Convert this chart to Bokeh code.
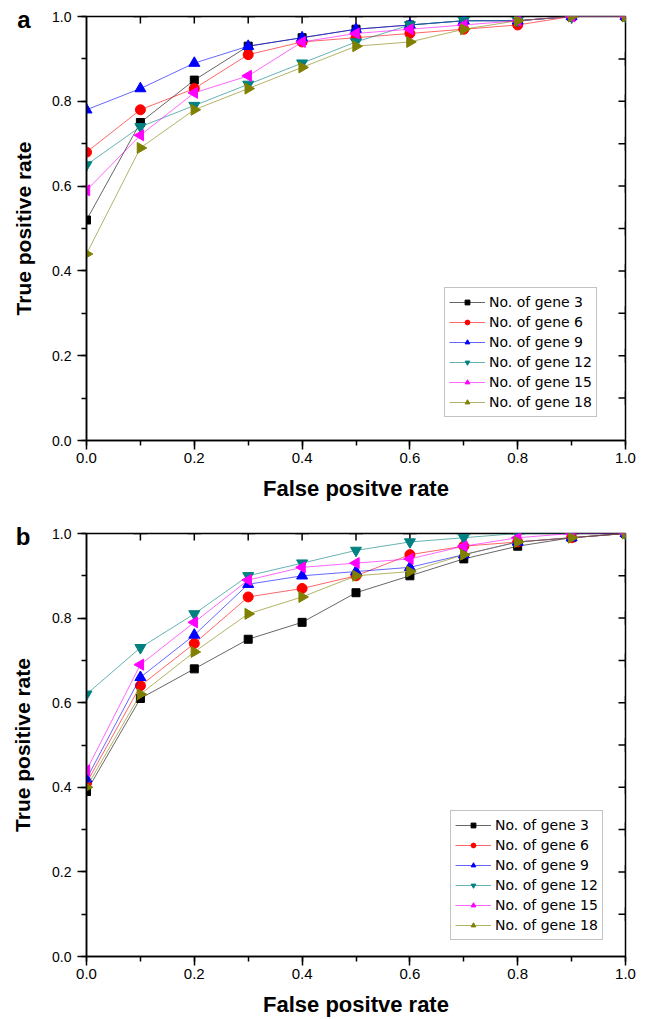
import math
from bokeh.plotting import figure
from bokeh.layouts import column
from bokeh.models import (Range1d, LinearAxis, SingleIntervalTicker, FixedTicker,
                          PrintfTickFormatter, Legend, LegendItem)
from bokeh.embed import file_html
from bokeh.resources import INLINE

fpr = [0.0, 0.1, 0.2, 0.3, 0.4, 0.5, 0.6, 0.7, 0.8, 0.9, 1.0]
edge_ticks = [0.1, 0.2, 0.3, 0.4, 0.5, 0.6, 0.7, 0.8, 0.9]

labels = ["No. of gene 3", "No. of gene 6", "No. of gene 9",
          "No. of gene 12", "No. of gene 15", "No. of gene 18"]

# Panel a
a_gene3 = [0.52, 0.75, 0.85, 0.93, 0.95, 0.97, 0.98, 0.99, 0.99, 1.00, 1.00]
a_gene6 = [0.68, 0.78, 0.83, 0.91, 0.94, 0.95, 0.96, 0.97, 0.98, 1.00, 1.00]
a_gene9 = [0.78, 0.83, 0.89, 0.93, 0.95, 0.97, 0.98, 0.99, 0.99, 1.00, 1.00]
a_gene12 = [0.65, 0.74, 0.79, 0.84, 0.89, 0.94, 0.98, 0.99, 0.99, 1.00, 1.00]
a_gene15 = [0.59, 0.72, 0.82, 0.86, 0.94, 0.96, 0.97, 0.98, 0.99, 1.00, 1.00]
a_gene18 = [0.44, 0.69, 0.78, 0.83, 0.88, 0.93, 0.94, 0.97, 0.99, 1.00, 1.00]

# Panel b
b_gene3 = [0.39, 0.61, 0.68, 0.75, 0.79, 0.86, 0.90, 0.94, 0.97, 0.99, 1.00]
b_gene6 = [0.41, 0.64, 0.74, 0.85, 0.87, 0.90, 0.95, 0.97, 0.98, 0.99, 1.00]
b_gene9 = [0.42, 0.66, 0.76, 0.88, 0.90, 0.91, 0.92, 0.95, 0.98, 0.99, 1.00]
b_gene12 = [0.62, 0.73, 0.81, 0.90, 0.93, 0.96, 0.98, 0.99, 1.00, 1.00, 1.00]
b_gene15 = [0.44, 0.69, 0.79, 0.89, 0.92, 0.93, 0.94, 0.97, 0.99, 1.00, 1.00]
b_gene18 = [0.40, 0.62, 0.72, 0.81, 0.85, 0.90, 0.91, 0.95, 0.98, 0.99, 1.00]

colors = ["#000000", "#ff0000", "#0000ff", "#008080", "#ff00ff", "#808000"]
markers = ["square", "circle", "triangle", "inverted_triangle", "triangle", "triangle"]
angles = [0, 0, 0, 0, math.pi / 2, -math.pi / 2]
sizes = [8, 10, 11, 11, 11, 11]

FONT = "Liberation Sans"
LETTER_POS = 0.993


def make_panel(series, letter, height, border_top, border_bottom, legend_loc):
    p = figure(width=640, height=height, output_backend="svg", toolbar_location=None,
               x_range=Range1d(0, 1), y_range=Range1d(0, 1),
               min_border_left=86, min_border_right=15, min_border_top=border_top,
               min_border_bottom=border_bottom, x_axis_type=None, y_axis_type=None)
    p.xgrid.visible = False
    p.ygrid.visible = False
    p.outline_line_color = "black"
    p.outline_line_width = 1.5
    p.background_fill_color = "white"
    p.border_fill_color = "white"

    def style(ax, size):
        ax.axis_line_color = "black"
        ax.axis_line_width = 1.5
        ax.major_tick_line_width = 1.5
        ax.minor_tick_line_width = 1.5
        ax.major_tick_out = 9
        ax.major_tick_in = 0
        ax.minor_tick_out = 5
        ax.minor_tick_in = 0
        ax.formatter = PrintfTickFormatter(format="%.1f")
        ax.major_label_text_font = FONT
        ax.major_label_text_font_size = size
        ax.major_label_text_color = "black"
        ax.major_label_standoff = 5

    xb = LinearAxis(ticker=SingleIntervalTicker(interval=0.2, num_minor_ticks=2),
                    axis_label="False positve rate")
    style(xb, "15px")
    xb.major_label_standoff = 3
    xb.axis_label_text_font = FONT
    xb.axis_label_text_font_style = "bold"
    xb.axis_label_text_font_size = "22px"
    xb.axis_label_text_color = "black"
    xb.axis_label_standoff = 10
    p.add_layout(xb, "below")

    yl = LinearAxis(ticker=SingleIntervalTicker(interval=0.2, num_minor_ticks=2))
    style(yl, "14px")
    yl.major_label_standoff = 6
    p.add_layout(yl, "left")

    # outer left axis: carries the panel letter as its only tick label and the y title
    la = LinearAxis(ticker=FixedTicker(ticks=[LETTER_POS]),
                    major_label_overrides={LETTER_POS: letter},
                    axis_label="True positive rate")
    la.axis_line_alpha = 0
    la.major_tick_line_alpha = 0
    la.minor_tick_line_alpha = 0
    la.major_tick_out = 0
    la.major_tick_in = 0
    la.major_label_standoff = 19
    la.major_label_text_font = FONT
    la.major_label_text_font_style = "bold"
    la.major_label_text_font_size = "24px"
    la.major_label_text_color = "black"
    la.axis_label_text_font = FONT
    la.axis_label_text_font_style = "bold"
    la.axis_label_text_font_size = "21px"
    la.axis_label_text_color = "black"
    la.axis_label_standoff = -21
    p.add_layout(la, "left")

    # inward ticks on the top and right frame edges (half of each cross is clipped)
    p.scatter(edge_ticks, [1.0] * len(edge_ticks), marker="cross", size=14,
              line_color="black", line_width=1.5)
    p.scatter([1.0] * len(edge_ticks), edge_ticks, marker="cross", size=14,
              line_color="black", line_width=1.5)

    items = []
    for i, ys in enumerate(series):
        lr = p.line(fpr, ys, line_color=colors[i], line_width=1, line_alpha=0.6)
        sr = p.scatter(fpr, ys, marker=markers[i], angle=angles[i], size=sizes[i],
                       fill_color=colors[i], line_color=colors[i])
        items.append(LegendItem(label=labels[i], renderers=[lr, sr]))

    leg = Legend(items=items, location=legend_loc)
    leg.label_text_font = "DejaVu Sans"
    leg.label_text_font_size = "14px"
    leg.label_text_color = "black"
    leg.label_height = 20
    leg.glyph_height = 12
    leg.glyph_width = 36
    leg.spacing = 0
    leg.padding = 4
    leg.margin = 0
    leg.label_standoff = 4
    leg.border_line_color = "#888888"
    leg.border_line_width = 1
    leg.background_fill_alpha = 1
    p.add_layout(leg, "center")
    return p


pa = make_panel([a_gene3, a_gene6, a_gene9, a_gene12, a_gene15, a_gene18],
                "a", 517, 16, 77, (358, 23))
pb = make_panel([b_gene3, b_gene6, b_gene9, b_gene12, b_gene15, b_gene18],
                "b", 502, 16, 62, (364, 16))

layout = column(pa, pb, spacing=0)
open("out.html", "w").write(file_html(layout, INLINE))
